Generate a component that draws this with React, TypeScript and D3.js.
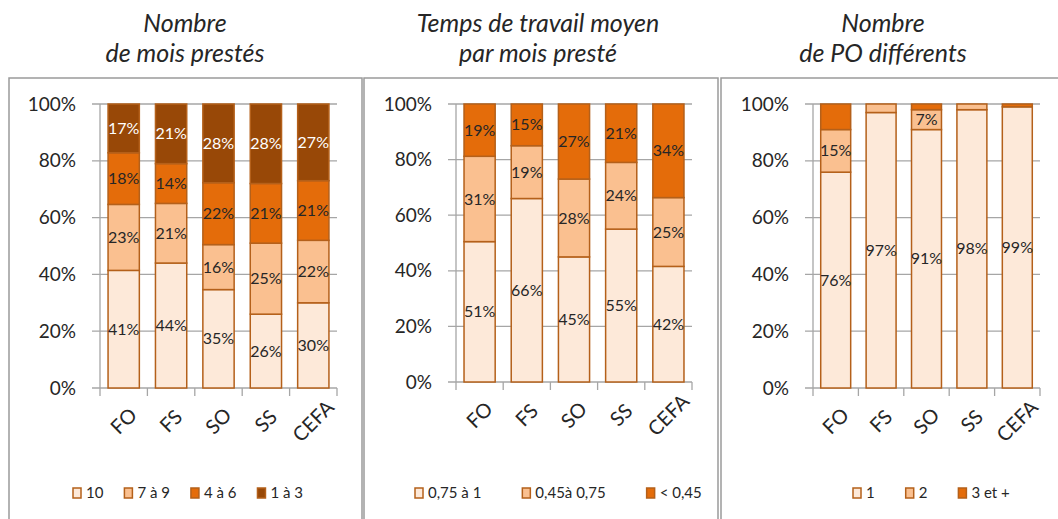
import React from "react";
import * as d3 from "d3";

// categories shared by the three panels
const categories = ["FO", "FS", "SO", "SS", "CEFA"];
const yTicks = [0, 0.2, 0.4, 0.6, 0.8, 1];

// Nombre de mois prestés
const moisSeries = ["10", "7 à 9", "4 à 6", "1 à 3"];
const moisValues = [
  [41, 44, 35, 26, 30],
  [23, 21, 16, 25, 22],
  [18, 14, 22, 21, 21],
  [17, 21, 28, 28, 27],
];

// Temps de travail moyen par mois presté
const tempsSeries = ["0,75 à 1", "0,45à 0,75", "< 0,45"];
const tempsValues = [
  [51, 66, 45, 55, 42],
  [31, 19, 28, 24, 25],
  [19, 15, 27, 21, 34],
];

// Nombre de PO différents
const poSeries = ["1", "2", "3 et +"];
const poValues = [
  [76, 97, 91, 98, 99],
  [15, 3, 7, 2, 0],
  [9, 0, 2, 0, 1],
];

const fills = ["#FDE9D9", "#FAC090", "#E46C0A", "#984807"];
const FONT = "Lato, 'Open Sans', sans-serif";
const TEXT = "#262626";
const GRID = "#A6A6A6";
const EDGE = "#B4601A";

const canvas = typeof document !== "undefined" ? document.createElement("canvas") : null;
const textWidth = (t: string, size: number) => {
  const ctx = canvas?.getContext("2d");
  if (!ctx) return t.length * size * 0.5;
  ctx.font = `${size}px Lato`;
  return ctx.measureText(t).width;
};

type PanelProps = {
  title: string[];
  series: string[];
  values: number[][];
  box: [number, number, number, number];
  plot: { left: number; right: number; top: number; bottom: number };
  titleX: number;
  legendX: number;
  legendGap: number;
  labelSeries: number; // how many series carry data labels
  labelMin: number;
};

const Panel = (p: PanelProps) => {
  const rows = categories.map((c, i) => {
    const r: any = { cat: c };
    p.series.forEach((s, k) => (r[s] = p.values[k][i]));
    return r;
  });
  const stacked = d3.stack().keys(p.series).offset(d3.stackOffsetExpand)(rows);

  const x = d3
    .scaleBand()
    .domain(categories)
    .range([p.plot.left, p.plot.right])
    .paddingInner(0.34)
    .paddingOuter(0.17);
  const y = d3.scaleLinear().domain([0, 1]).range([p.plot.bottom, p.plot.top]);
  const step = x.step();

  // legend layout
  let lx = p.legendX;
  const legendItems = p.series.map((s, k) => {
    const item = { s, k, x: lx };
    lx += 9 + 5 + textWidth(s, 15) + p.legendGap;
    return item;
  });
  const legendY = 493;

  return (
    <g>
      <rect
        x={p.box[0]}
        y={p.box[1]}
        width={p.box[2] - p.box[0]}
        height={p.box[3] - p.box[1]}
        fill="#fff"
        stroke="#9A9A9A"
        strokeWidth={1.5}
      />
      {p.title.map((t, i) => (
        <text
          key={i}
          x={p.titleX}
          y={32 + i * 30}
          textAnchor="middle"
          fontStyle="italic"
          fontSize={25}
          fill={TEXT}
        >
          {t}
        </text>
      ))}
      {/* grid + y axis */}
      {yTicks.map((t) => (
        <g key={t}>
          <line
            x1={p.plot.left - 8}
            x2={p.plot.right}
            y1={y(t)}
            y2={y(t)}
            stroke={GRID}
            strokeWidth={1.3}
          />
          <text
            x={p.plot.left - 24}
            y={y(t)}
            dy="0.35em"
            textAnchor="end"
            fontSize={19}
            fill={TEXT}
          >
            {d3.format(".0%")(t)}
          </text>
        </g>
      ))}
      <line
        x1={p.plot.left}
        x2={p.plot.left}
        y1={p.plot.top}
        y2={p.plot.bottom + 8}
        stroke={GRID}
        strokeWidth={1.3}
      />
      {categories.map((c, i) => (
        <line
          key={c}
          x1={p.plot.left + (i + 1) * step}
          x2={p.plot.left + (i + 1) * step}
          y1={p.plot.bottom}
          y2={p.plot.bottom + 8}
          stroke={GRID}
          strokeWidth={1.3}
        />
      ))}
      {/* bars */}
      {stacked.map((layer, k) =>
        layer.map((d, i) => {
          const h = y(d[0]) - y(d[1]);
          if (h <= 0) return null;
          return (
            <rect
              key={`${k}-${i}`}
              x={x(categories[i])}
              y={y(d[1])}
              width={x.bandwidth()}
              height={h}
              fill={fills[k]}
              stroke={EDGE}
              strokeWidth={1.5}
            />
          );
        })
      )}
      {/* data labels */}
      {stacked.map((layer, k) =>
        layer.map((d, i) => {
          const v = p.values[k][i];
          if (k >= p.labelSeries || v < p.labelMin) return null;
          return (
            <text
              key={`l${k}-${i}`}
              x={(x(categories[i]) as number) + x.bandwidth() / 2}
              y={(y(d[0]) + y(d[1])) / 2}
              dy="0.35em"
              textAnchor="middle"
              fontSize={16}
              fill={k === 3 ? "#fff" : TEXT}
            >
              {v}%
            </text>
          );
        })
      )}
      {/* category labels */}
      {categories.map((c) => {
        const cx = (x(c) as number) + x.bandwidth() / 2;
        const cy = p.plot.bottom + 33;
        return (
          <text
            key={c}
            transform={`translate(${cx},${cy}) rotate(-45)`}
            textAnchor="middle"
            dy="0.35em"
            fontSize={20}
            fill={TEXT}
          >
            {c}
          </text>
        );
      })}
      {/* legend */}
      {legendItems.map((it) => (
        <g key={it.s}>
          <rect
            x={it.x}
            y={legendY - 5}
            width={8}
            height={10}
            fill={fills[it.k]}
            stroke={EDGE}
            strokeWidth={1.5}
          />
          <text x={it.x + 13} y={legendY} dy="0.35em" fontSize={15} fill={TEXT}>
            {it.s}
          </text>
        </g>
      ))}
    </g>
  );
};

export default function App() {
  return (
    <svg
      width={1058}
      height={519}
      style={{ position: "absolute", left: 0, top: 0, fontFamily: FONT }}
    >
      <rect width={1058} height={519} fill="#fff" />
      <Panel
        title={["Nombre", "de mois prestés"]}
        series={moisSeries}
        values={moisValues}
        box={[9, 78, 362, 540]}
        plot={{ left: 100, right: 337, top: 104, bottom: 388 }}
        titleX={185}
        legendX={73}
        legendGap={20}
        labelSeries={4}
        labelMin={1}
      />
      <Panel
        title={["Temps de travail moyen", "par mois presté"]}
        series={tempsSeries}
        values={tempsValues}
        box={[364, 78, 718, 540]}
        plot={{ left: 456, right: 692, top: 104, bottom: 382 }}
        titleX={538}
        legendX={415}
        legendGap={40}
        labelSeries={3}
        labelMin={1}
      />
      <Panel
        title={["Nombre", "de PO différents"]}
        series={poSeries}
        values={poValues}
        box={[721, 78, 1080, 540]}
        plot={{ left: 813, right: 1040, top: 104, bottom: 388 }}
        titleX={883}
        legendX={853}
        legendGap={30}
        labelSeries={2}
        labelMin={5}
      />
    </svg>
  );
}
